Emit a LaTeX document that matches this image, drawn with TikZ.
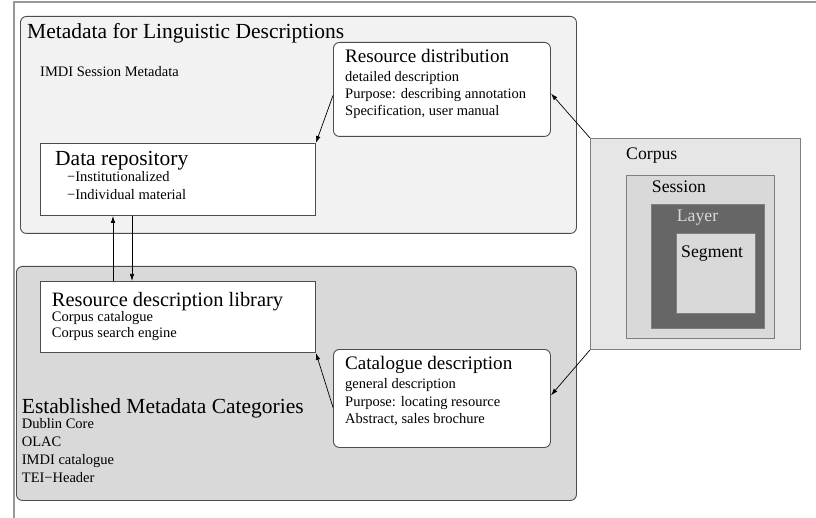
\documentclass[tikz,border=0pt]{standalone}
\usepackage{fontspec}
\setmainfont{Liberation Serif}
\usetikzlibrary{arrows.meta,calc}
\definecolor{edgegray}{HTML}{4D4D4D}
\definecolor{lightbg}{HTML}{F2F2F2}
\definecolor{midbg}{HTML}{D9D9D9}
\definecolor{corpusbg}{HTML}{E6E6E6}
\definecolor{layerbg}{HTML}{666666}
\definecolor{framegray}{HTML}{999999}
\definecolor{boxline}{HTML}{7F7F7F}
\begin{document}
\begin{tikzpicture}[x=1pt,y=-1pt,
  area/.style={draw=edgegray,line width=0.9pt,rounded corners=6pt,anchor=north west,inner sep=0pt},
  wbox/.style={draw=edgegray,fill=white,line width=0.9pt,anchor=north west,inner sep=0pt},
  rbox/.style={wbox,rounded corners=6pt},
  nest/.style={draw=boxline,line width=0.9pt,anchor=north west,inner sep=0pt},
  lbl/.style={anchor=base west,inner sep=0pt,text=black},
  big/.style={lbl,font=\fontsize{21.5}{24}\selectfont},
  mid/.style={lbl,font=\fontsize{19.1}{22}\selectfont},
  med/.style={lbl,font=\fontsize{17.7}{20}\selectfont},
  small/.style={lbl,font=\fontsize{14.5}{17}\selectfont},
  arr/.style={draw=black,line width=0.7pt,-{Latex[length=7pt,width=4.5pt]}}]
\useasboundingbox (0,0) rectangle (816,518);
% outer frame (top and left only)
\draw[framegray,line width=1.2pt] (14,518) -- (14,2) -- (816,2);
% areas
\node[area,fill=lightbg,minimum width=556pt,minimum height=217pt] (meta) at (20,16) {};
\node[area,fill=midbg,minimum width=560pt,minimum height=234pt] (estab) at (16,266) {};
% boxes
\node[rbox,minimum width=217pt,minimum height=94pt] (rd) at (333,42) {};
\node[wbox,minimum width=275pt,minimum height=72pt] (dr) at (40,143) {};
\node[wbox,minimum width=275pt,minimum height=71pt] (rdl) at (40,281) {};
\node[rbox,minimum width=217pt,minimum height=98pt] (cd) at (333,349) {};
% nested corpus
\node[nest,fill=corpusbg,minimum width=210pt,minimum height=211pt] (corpus) at (590,138) {};
\node[nest,fill=midbg,minimum width=148pt,minimum height=163pt] (session) at (626,175) {};
\node[nest,fill=layerbg,minimum width=113pt,minimum height=124pt] (layer) at (651,204) {};
\node[nest,fill=midbg,minimum width=79pt,minimum height=80pt] (segment) at (676,233) {};
% texts
\node[big] (t1) at (27,39) {Metadata for Linguistic Descriptions};
\node[small] (t2) at (40,77) {IMDI Session Metadata};
\node[mid] (rd1) at (345,63) {Resource distribution};
\node[small] (rd2) at (345,82) {detailed description};
\node[small] (rd3) at (345,99) {Purpose: describing annotation};
\node[small] (rd4) at (345,116) {Specification, user manual};
\node[big] (dr1) at (55,166) {Data repository};
\node[small] (dr2) at (67,182) {−Institutionalized};
\node[small] (dr3) at (67,199.5) {−Individual material};
\node[lbl,font=\fontsize{20.4}{23}\selectfont] (rdl1) at (51.7,307) {Resource description library};
\node[small] (rdl2) at (51.7,322) {Corpus catalogue};
\node[small] (rdl3) at (51.7,337.5) {Corpus search engine};
\node[mid] (cd1) at (345,369) {Catalogue description};
\node[small] (cd2) at (345,388) {general description};
\node[small] (cd3) at (345,406) {Purpose: locating resource};
\node[small] (cd4) at (345,423) {Abstract, sales brochure};
\node[big] (e1) at (21.7,413) {Established Metadata Categories};
\node[small] (e2) at (21.7,428) {Dublin Core};
\node[small] (e3) at (21.7,446) {OLAC};
\node[small] (e4) at (21.7,464) {IMDI catalogue};
\node[small] (e5) at (21.7,482) {TEI−Header};
\node[med] (c1) at (626,160) {Corpus};
\node[med] (c2) at (651.7,193) {Session};
\node[med,text=midbg] (c3) at (676.7,222) {Layer};
\node[med] (c4) at (681,258) {Segment};
% connectors
\draw[arr] ([yshift=-6pt]rd.west) -- (dr.north east);
\draw[arr] (corpus.north west) -- ([yshift=-4pt]rd.east);
\draw[arr] ([yshift=-9pt]cd.west) -- (rdl.south east);
\draw[arr] (corpus.south west) -- ([yshift=3pt]cd.east);
\draw[arr] ([xshift=73pt]rdl.north west) -- ([xshift=73pt]dr.south west);
\draw[arr] ([xshift=92pt]dr.south west) -- ([xshift=92pt]rdl.north west);
\end{tikzpicture}
\end{document}
